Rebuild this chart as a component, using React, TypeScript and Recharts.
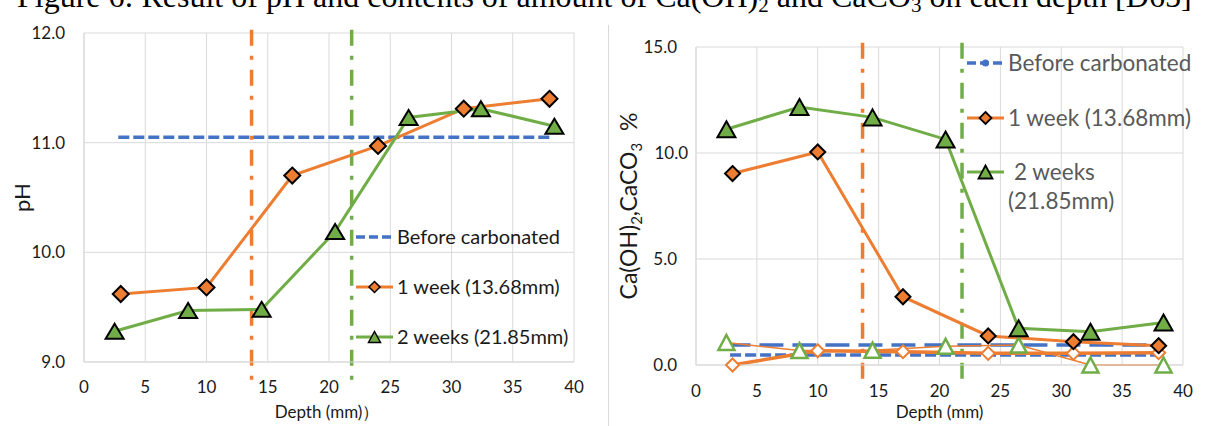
import React from "react";
import { LineChart, Line, XAxis, YAxis, CartesianGrid, ReferenceLine, Legend } from "recharts";

const ORANGE = "#ED7D31";
const GREEN = "#70AD47";
const BLUE = "#4472C4";
const GRID = "#D9D9D9";
const FONT = "Lato, 'Open Sans', sans-serif";

// sampling depths (mm)
const depthsOneWeek = [3, 10, 17, 24, 31, 38];
const depthsTwoWeeks = [2.5, 8.5, 14.5, 20.5, 26.5, 32.4, 38.4];
const depthsBeforePh = [2.8, 38];
const depthsBeforeUpper = [2.5, 37.8];
const depthsBeforeLower = [2.8, 38.2];

// pH
const phBefore = [11.05, 11.05];
const phOneWeek = [9.62, 9.68, 10.7, 10.97, 11.31, 11.4];
const phTwoWeeks = [9.28, 9.47, 9.48, 10.19, 11.23, 11.31, 11.15];

// Ca(OH)2 / CaCO3 content (%)
const caBeforeUpper = [0.94, 0.94];
const caBeforeLower = [0.47, 0.47];
const caOneWeek = [9.03, 10.05, 3.22, 1.37, 1.1, 0.91];
const caOneWeekOpen = [0.0, 0.67, 0.63, 0.55, 0.55, 0.58];
const caTwoWeeks = [11.12, 12.17, 11.68, 10.64, 1.73, 1.57, 2.0];
const caTwoWeeksOpen = [1.06, 0.68, 0.7, 0.88, 0.94, 0.0, 0.0];

// carbonation depths (mm)
const carbDepthOneWeek = 13.68;
const carbDepthTwoWeeks = 21.85;

const xTicks = [0, 5, 10, 15, 20, 25, 30, 35, 40];
const phTicks = [9, 10, 11, 12];
const caTicks = [0, 5, 10, 15];

const legendLabels = ["Before carbonated", "1 week (13.68mm)", "2 weeks (21.85mm)"];

const zip = (xs: number[], ys: number[]) => xs.map((x, i) => ({ x, y: ys[i] }));

const diamondPath = (cx: number, cy: number, r: number) =>
  `M${cx},${cy - r}L${cx + r},${cy}L${cx},${cy + r}L${cx - r},${cy}Z`;
const trianglePath = (cx: number, cy: number, w: number, h: number) =>
  `M${cx},${cy - h / 2}L${cx + w / 2},${cy + h / 2}L${cx - w / 2},${cy + h / 2}Z`;

const diamondDot = (fill: string, stroke: string, r: number, sw: number) => (p: any) => {
  if (p.cx == null || p.cy == null) return <g key={p.index} />;
  return <path key={p.index} d={diamondPath(p.cx, p.cy, r)} fill={fill} stroke={stroke} strokeWidth={sw} />;
};

const triangleDot = (fill: string, stroke: string, w: number, h: number, sw: number) => (p: any) => {
  if (p.cx == null || p.cy == null) return <g key={p.index} />;
  return (
    <path
      key={p.index}
      d={trianglePath(p.cx, p.cy, w, h)}
      fill={fill}
      stroke={stroke}
      strokeWidth={sw}
      strokeLinejoin="miter"
    />
  );
};

const tickStyle = { fill: "#1a1a1a", fontSize: 17, fontFamily: FONT };
const dashDot = "16 10 4 10";

// y tick for the content chart; the 10.0 label sits a little closer to the axis
const CaYTick = (p: any) => {
  const shift = p.payload.value === 10 ? 11 : 0;
  return (
    <text x={p.x + shift} y={p.y} dy="0.355em" textAnchor="end" {...tickStyle}>
      {Number(p.payload.value).toFixed(1)}
    </text>
  );
};

function PhLegend() {
  const rows = [37, 87, 137];
  return (
    <svg width={250} height={160} style={{ display: "block", overflow: "visible" }}>
      <line x1={6} x2={43} y1={rows[0]} y2={rows[0]} stroke={BLUE} strokeWidth={3.5} strokeDasharray="9 4" />
      <line x1={6} x2={43} y1={rows[1]} y2={rows[1]} stroke={ORANGE} strokeWidth={3} />
      <path d={diamondPath(24.5, rows[1], 5.5)} fill={ORANGE} stroke="#000" strokeWidth={1.5} />
      <line x1={6} x2={43} y1={rows[2]} y2={rows[2]} stroke={GREEN} strokeWidth={3} />
      <path d={trianglePath(24.5, rows[2], 12, 11)} fill={GREEN} stroke="#000" strokeWidth={1.5} />
      {legendLabels.map((t, i) => (
        <text key={t} x={47} y={rows[i]} dy="0.35em" fontSize={20} fontFamily={FONT} fill="#1a1a1a">
          {t}
        </text>
      ))}
    </svg>
  );
}

function CaLegend() {
  const rows = [33, 88, 142];
  return (
    <svg width={250} height={200} style={{ display: "block", overflow: "visible" }}>
      <line x1={7} x2={44} y1={rows[0]} y2={rows[0]} stroke={BLUE} strokeWidth={3.5} strokeDasharray="9 4" />
      <circle cx={25.5} cy={rows[0]} r={3.5} fill={BLUE} />
      <line x1={7} x2={44} y1={rows[1]} y2={rows[1]} stroke={ORANGE} strokeWidth={3} />
      <path d={diamondPath(25.5, rows[1], 6)} fill={ORANGE} stroke="#000" strokeWidth={1.8} />
      <line x1={7} x2={44} y1={rows[2]} y2={rows[2]} stroke={GREEN} strokeWidth={3} />
      <path d={trianglePath(25.5, rows[2], 14, 13)} fill={GREEN} stroke="#000" strokeWidth={1.8} />
      <g fontSize={22.5} fontFamily={FONT} fill="#595959">
        <text x={48} y={rows[0]} dy="0.35em">{legendLabels[0]}</text>
        <text x={48} y={rows[1]} dy="0.35em">{legendLabels[1]}</text>
        <text x={54} y={rows[2]} dy="0.35em">2 weeks</text>
        <text x={48} y={rows[2] + 29} dy="0.35em">(21.85mm)</text>
      </g>
    </svg>
  );
}

const PhTitle = () => (
  <text x={30} y={197.5} transform="rotate(-90 30 197.5)" textAnchor="middle" fontSize={22} fontFamily={FONT} fill="#1a1a1a">
    pH
  </text>
);

const CaTitle = () => (
  <text
    x={37}
    y={206}
    transform="rotate(-90 37 206)"
    textAnchor="middle"
    fontSize={23}
    fontFamily={FONT}
    fill="#1a1a1a"
    style={{ whiteSpace: "pre" }}
  >
    Ca(OH)
    <tspan fontSize={15} dy={5}>2</tspan>
    <tspan dy={-5}>,CaCO</tspan>
    <tspan fontSize={15} dy={5}>3</tspan>
    <tspan dy={-5}>{"  %"}</tspan>
  </text>
);

const DepthTitle = (text: string, cx: number) => () => (
  <text x={cx} y={418} textAnchor="middle" fontSize={17} fontFamily={FONT} fill="#1a1a1a">
    {text}
  </text>
);

function PhChart() {
  return (
    <LineChart width={600} height={426} margin={{ top: 33, right: 26, bottom: 0, left: 0 }}>
      <CartesianGrid stroke={GRID} strokeWidth={1} />
      <XAxis
        type="number"
        dataKey="x"
        domain={[0, 40]}
        ticks={xTicks}
        height={64}
        tickSize={0}
        tickMargin={19}
        stroke={GRID}
        tick={tickStyle}
        label={DepthTitle("Depth (mm)）", 327)}
      />
      <YAxis
        type="number"
        dataKey="y"
        domain={[9, 12]}
        ticks={phTicks}
        width={84}
        tickSize={0}
        tickMargin={19}
        stroke={GRID}
        tick={tickStyle}
        tickFormatter={(v: number) => v.toFixed(1)}
        label={PhTitle}
      />
      <ReferenceLine
        segment={[{ x: carbDepthOneWeek, y: 12.03 }, { x: carbDepthOneWeek, y: 8.79 }]}
        stroke={ORANGE}
        strokeWidth={3.5}
        strokeDasharray={dashDot}
        ifOverflow="visible"
      />
      <ReferenceLine
        segment={[{ x: carbDepthTwoWeeks, y: 12.03 }, { x: carbDepthTwoWeeks, y: 8.79 }]}
        stroke={GREEN}
        strokeWidth={3.5}
        strokeDasharray={dashDot}
        ifOverflow="visible"
      />
      <Line
        data={zip(depthsBeforePh, phBefore)}
        dataKey="y"
        stroke={BLUE}
        strokeWidth={3.5}
        strokeDasharray="11 4"
        dot={false}
        activeDot={false}
        isAnimationActive={false}
      />
      <Line
        data={zip(depthsOneWeek, phOneWeek)}
        dataKey="y"
        stroke={ORANGE}
        strokeWidth={3}
        dot={diamondDot(ORANGE, "#000", 8, 2)}
        activeDot={false}
        isAnimationActive={false}
      />
      <Line
        data={zip(depthsTwoWeeks, phTwoWeeks)}
        dataKey="y"
        stroke={GREEN}
        strokeWidth={3}
        dot={triangleDot(GREEN, "#000", 18, 15, 2)}
        activeDot={false}
        isAnimationActive={false}
      />
      <Legend
        layout="vertical"
        align="center"
        verticalAlign="middle"
        wrapperStyle={{ left: 350, top: 200, width: 250, height: 160 }}
        content={() => <PhLegend />}
      />
    </LineChart>
  );
}

function CaChart() {
  return (
    <LineChart width={605} height={426} margin={{ top: 47, right: 22, bottom: 0, left: 0 }}>
      <CartesianGrid stroke={GRID} strokeWidth={1} />
      <XAxis
        type="number"
        dataKey="x"
        domain={[0, 40]}
        ticks={xTicks}
        height={61}
        tickSize={0}
        tickMargin={20}
        stroke={GRID}
        tick={tickStyle}
        label={DepthTitle("Depth (mm)", 339.5)}
      />
      <YAxis
        type="number"
        dataKey="y"
        domain={[0, 15]}
        ticks={caTicks}
        width={96}
        tickSize={0}
        tickMargin={19}
        stroke={GRID}
        tick={CaYTick}
        label={CaTitle}
      />
      <ReferenceLine
        segment={[{ x: carbDepthOneWeek, y: 15.2 }, { x: carbDepthOneWeek, y: -0.79 }]}
        stroke={ORANGE}
        strokeWidth={3.5}
        strokeDasharray={dashDot}
        ifOverflow="visible"
      />
      <ReferenceLine
        segment={[{ x: carbDepthTwoWeeks, y: 15.2 }, { x: carbDepthTwoWeeks, y: -0.79 }]}
        stroke={GREEN}
        strokeWidth={3.5}
        strokeDasharray={dashDot}
        ifOverflow="visible"
      />
      <Line
        data={zip(depthsBeforeUpper, caBeforeUpper)}
        dataKey="y"
        stroke={BLUE}
        strokeWidth={3.5}
        strokeDasharray="24 9"
        dot={false}
        activeDot={false}
        isAnimationActive={false}
      />
      <Line
        data={zip(depthsBeforeLower, caBeforeLower)}
        dataKey="y"
        stroke={BLUE}
        strokeWidth={3.5}
        strokeDasharray="11 4"
        dot={false}
        activeDot={false}
        isAnimationActive={false}
      />
      <Line
        data={zip(depthsOneWeek, caOneWeekOpen)}
        dataKey="y"
        stroke={ORANGE}
        strokeWidth={3.5}
        dot={diamondDot("#fff", ORANGE, 6.5, 2)}
        activeDot={false}
        isAnimationActive={false}
      />
      <Line
        data={zip(depthsTwoWeeks, caTwoWeeksOpen)}
        dataKey="y"
        stroke={ORANGE}
        strokeWidth={1.5}
        dot={triangleDot("#fff", GREEN, 16, 15, 2.5)}
        activeDot={false}
        isAnimationActive={false}
      />
      <Line
        data={zip(depthsOneWeek, caOneWeek)}
        dataKey="y"
        stroke={ORANGE}
        strokeWidth={3}
        dot={diamondDot(ORANGE, "#000", 7.5, 2)}
        activeDot={false}
        isAnimationActive={false}
      />
      <Line
        data={zip(depthsTwoWeeks, caTwoWeeks)}
        dataKey="y"
        stroke={GREEN}
        strokeWidth={3}
        dot={triangleDot(GREEN, "#000", 18, 16, 2)}
        activeDot={false}
        isAnimationActive={false}
      />
      <Legend
        layout="vertical"
        align="center"
        verticalAlign="middle"
        wrapperStyle={{ left: 360, top: 30, width: 250, height: 200 }}
        content={() => <CaLegend />}
      />
    </LineChart>
  );
}

export default function App() {
  return (
    <div style={{ position: "relative", width: 1205, height: 426, overflow: "hidden", background: "#fff" }}>
      <style>{"body{margin:0}"}</style>
      {/* figure caption, its upper part runs off the top edge */}
      <svg width={1205} height={20} style={{ position: "absolute", left: 0, top: 0 }}>
        <text x={17} y={7} fontFamily="'Liberation Serif', serif" fontSize={32} fill="#000">
          Figure 6: Result of pH and contents of amount of Ca(OH)
          <tspan fontSize={21} dy={5}>2</tspan>
          <tspan dy={-5}> and CaCO</tspan>
          <tspan fontSize={21} dy={5}>3</tspan>
          <tspan dy={-5}> on each depth [D65]</tspan>
        </text>
      </svg>
      <div style={{ position: "absolute", left: 608, top: 25, width: 1, height: 401, background: GRID }} />
      <div style={{ position: "absolute", left: 0, top: 0 }}>
        <PhChart />
      </div>
      <div style={{ position: "absolute", left: 600, top: 0 }}>
        <CaChart />
      </div>
    </div>
  );
}
